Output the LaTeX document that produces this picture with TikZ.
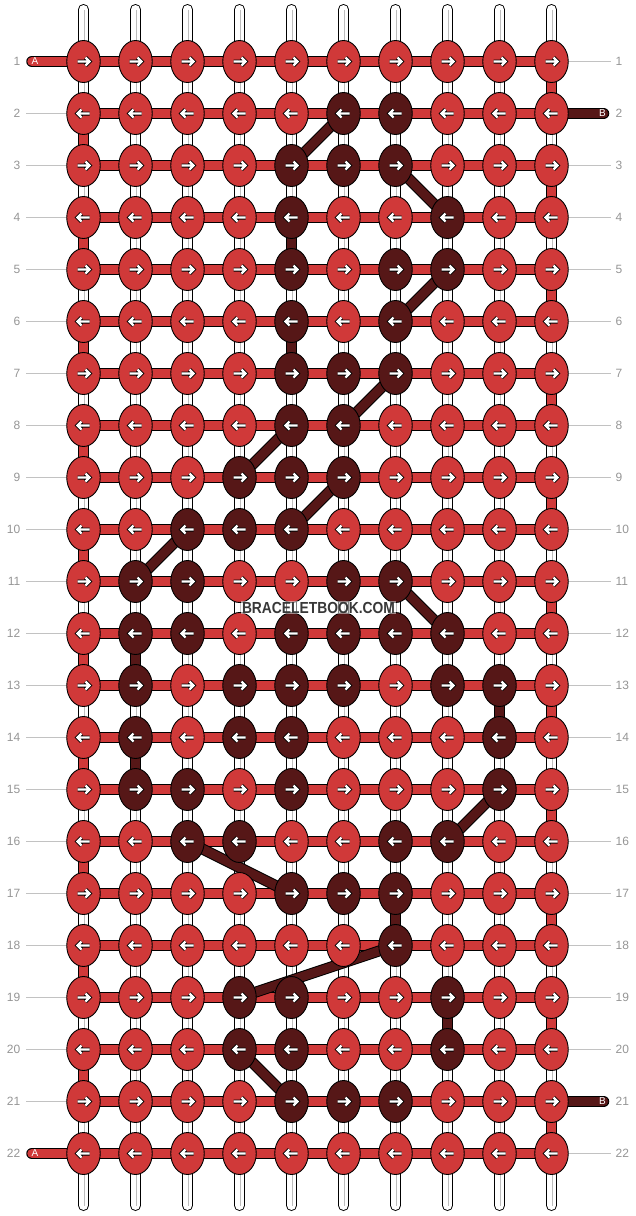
\documentclass[tikz,border=0pt]{standalone}
\usepackage{fontspec}
\setmainfont{Liberation Sans}
\usetikzlibrary{shapes.geometric}
\definecolor{knotred}{HTML}{D03939}
\definecolor{knotdark}{HTML}{561717}
\definecolor{lblgray}{HTML}{959595}
\definecolor{linegray}{HTML}{C2C2C2}
\definecolor{wmgray}{HTML}{383838}
\definecolor{strandgray}{HTML}{BDBDBD}
\tikzset{
  knot/.style={shape=ellipse,draw=black,line width=0.9pt,minimum width=33.5pt,minimum height=42pt,inner sep=0pt},
  strandout/.style={line width=11pt,line cap=round,draw=black},
  strandin/.style={line width=9pt,line cap=round,draw=white},
  strandmid/.style={line width=0.9pt,draw=strandgray},
  barout/.style={line width=11pt,draw=black},
  barred/.style={line width=9pt,draw=knotred},
  bardark/.style={line width=9pt,draw=knotdark},
  endout/.style={line width=11.5pt,draw=black,line cap=round},
  endred/.style={line width=9.5pt,draw=knotred,line cap=round},
  enddark/.style={line width=9.5pt,draw=knotdark,line cap=round},
  arrowout/.style={line width=4pt,draw=black},
  arrowin/.style={line width=2.3pt,draw=white},
  lbl/.style={text=lblgray,font=\fontsize{12}{12}\selectfont,inner sep=0pt},
  lblline/.style={draw=linegray,line width=0.9pt},
  endlbl/.style={text=white,font=\fontsize{10}{10}\selectfont,inner sep=0pt},
  wm/.style={text=wmgray,fill=white,fill opacity=0.5,text opacity=1,inner sep=1pt,font=\fontsize{16}{16}\selectfont\bfseries},
  rarrow/.pic={
    \draw[arrowout] (-6,0)--(5.5,0) (2,-4)--(6,0)--(2,4);
    \draw[arrowin] (-6,0)--(5.5,0) (2,-4)--(6,0)--(2,4);
  },
  larrow/.pic={
    \draw[arrowout] (6,0)--(-5.5,0) (-2,-4)--(-6,0)--(-2,4);
    \draw[arrowin] (6,0)--(-5.5,0) (-2,-4)--(-6,0)--(-2,4);
  }
}
\foreach \p in {6-2,7-2,5-3,6-3,7-3,5-4,8-4,5-5,7-5,8-5,5-6,7-6,5-7,6-7,7-7,5-8,6-8,
  4-9,5-9,6-9,3-10,4-10,5-10,2-11,3-11,6-11,7-11,2-12,3-12,5-12,6-12,7-12,8-12,
  2-13,4-13,5-13,6-13,8-13,9-13,2-14,4-14,5-14,9-14,2-15,3-15,5-15,9-15,
  3-16,4-16,7-16,8-16,5-17,6-17,7-17,7-18,4-19,5-19,8-19,4-20,5-20,8-20,5-21,6-21,7-21}
  {\expandafter\gdef\csname dk-\p\endcsname{}}
\begin{document}
\begin{tikzpicture}[x=1pt,y=-1pt]
\useasboundingbox (0,0) rectangle (636,1216);
% positions
\foreach \r in {1,...,22}{
  \foreach \c in {1,...,10}{
    \coordinate (p-\c-\r) at ({83.5+52*(\c-1)},{61.5+52*(\r-1)});
  }
  \coordinate (ll-\r) at (26,{61.5+52*(\r-1)});
  \coordinate (rl-\r) at (611,{61.5+52*(\r-1)});
}
% label lines
\foreach \r in {1,...,22}{
  \ifnum\r=1 \else\ifnum\r=22 \else \draw[lblline] (ll-\r) -- (p-1-\r);\fi\fi
  \ifnum\r=2 \else\ifnum\r=21 \else \draw[lblline] (p-10-\r) -- (rl-\r);\fi\fi
}
% base strands
\foreach \c in {1,...,10}{
  \coordinate (st-\c) at ({83.5+52*(\c-1)},9.5);
  \coordinate (sb-\c) at ({83.5+52*(\c-1)},1205.5);
  \draw[strandout] (st-\c) -- (sb-\c);
  \draw[strandin] (st-\c) -- (sb-\c);
  \draw[strandmid] ([xshift=1pt]st-\c) -- ([xshift=1pt]sb-\c);
}
% row threads
\foreach \r in {1,...,22}{
  \draw[barout] (p-1-\r) -- (p-10-\r);
  \draw[barred] (p-1-\r) -- (p-10-\r);
}
% turns at the edges
\foreach \a/\b in {2/3,4/5,6/7,8/9,10/11,12/13,14/15,16/17,18/19,20/21}{
  \draw[barout] (p-1-\a) -- (p-1-\b);
  \draw[barred] (p-1-\a) -- (p-1-\b);
}
\foreach \a/\b in {1/2,3/4,5/6,7/8,9/10,11/12,13/14,15/16,17/18,19/20,21/22}{
  \draw[barout] (p-10-\a) -- (p-10-\b);
  \draw[barred] (p-10-\a) -- (p-10-\b);
}
% dark thread paths
\foreach \a/\b in {6-2/5-3,7-3/8-4,5-4/5-5,8-5/7-6,5-6/5-7,7-7/6-8,5-8/4-9,6-9/5-10,
  3-10/2-11,7-11/8-12,2-12/2-13,9-13/9-14,2-14/2-15,9-15/8-16,3-16/5-17,7-17/7-18,
  7-18/4-19,8-19/8-20,4-20/5-21}{
  \draw[barout] (p-\a) -- (p-\b);
  \draw[bardark] (p-\a) -- (p-\b);
}
% end strands A and B
\coordinate (aend-1) at (32,61.5);
\coordinate (aend-22) at (32,1153.5);
\coordinate (bend-2) at (603.5,113.5);
\coordinate (bend-21) at (603.5,1101.5);
\draw[endout] (aend-1) -- (p-1-1);
\draw[endred] (aend-1) -- (p-1-1);
\draw[endout] (aend-22) -- (p-1-22);
\draw[endred] (aend-22) -- (p-1-22);
\draw[endout] (p-10-2) -- (bend-2);
\draw[enddark] (p-10-2) -- (bend-2);
\draw[endout] (p-10-21) -- (bend-21);
\draw[enddark] (p-10-21) -- (bend-21);
% knots
\foreach \r in {1,...,22}{
  \foreach \c in {1,...,10}{
    \ifcsname dk-\c-\r\endcsname\def\kf{knotdark}\else\def\kf{knotred}\fi
    \node[knot,fill=\kf] (k-\c-\r) at (p-\c-\r) {};
    \ifodd\r \pic at (p-\c-\r) {rarrow};\else \pic at (p-\c-\r) {larrow};\fi
  }
}
% end labels
\node[endlbl] (la-1) at (35,61.5) {A};
\node[endlbl] (la-22) at (35,1153.5) {A};
\node[endlbl] (lb-2) at (602.5,113.5) {B};
\node[endlbl] (lb-21) at (602.5,1101.5) {B};
% row numbers
\foreach \r in {1,...,22}{
  \node[lbl,anchor=east] (ln-\r) at (20.5,{61.5+52*(\r-1)}) {\r};
  \node[lbl,anchor=west] (rn-\r) at (615.5,{61.5+52*(\r-1)}) {\r};
}
% watermark
\node[wm] (wm) at (318.5,607.5) {\scalebox{0.865}[1]{BRACELETBOOK.COM}};
\end{tikzpicture}
\end{document}
